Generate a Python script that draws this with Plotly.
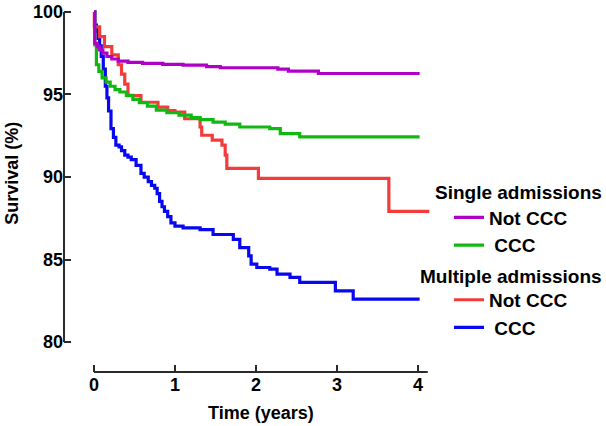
import plotly.graph_objects as go

# ---- data (Kaplan-Meier step points) ----
single_not_ccc_t = [0, 0.01, 0.04, 0.07, 0.11, 0.16, 0.22, 0.30, 0.42, 0.60, 0.85, 1.10, 1.39, 1.56, 2.27, 2.40, 2.77, 4.02]
single_not_ccc_s = [100, 98.1, 97.9, 97.7, 97.5, 97.3, 97.15, 97.02, 96.94, 96.88, 96.82, 96.78, 96.69, 96.62, 96.53, 96.42, 96.27, 96.27]

single_ccc_t = [0, 0.01, 0.03, 0.06, 0.10, 0.15, 0.20, 0.26, 0.32, 0.40, 0.48, 0.56, 0.66, 0.77, 0.90, 1.05, 1.20, 1.31, 1.47, 1.62, 1.80, 2.17, 2.30, 2.54, 4.02]
single_ccc_s = [100, 98.0, 96.8, 96.4, 96.0, 95.75, 95.5, 95.3, 95.15, 94.95, 94.7, 94.5, 94.3, 94.05, 93.9, 93.75, 93.6, 93.48, 93.33, 93.2, 93.03, 92.93, 92.63, 92.43, 92.43]

multi_not_ccc_t = [0, 0.005, 0.07, 0.13, 0.22, 0.30, 0.34, 0.38, 0.42, 0.58, 0.79, 0.91, 1.0, 1.12, 1.31, 1.33, 1.46, 1.58, 1.62, 1.64, 2.03, 3.64, 4.14]
multi_not_ccc_s = [100, 99.1, 98.5, 97.9, 97.4, 96.8, 96.23, 95.63, 94.93, 94.53, 94.23, 94.03, 93.93, 93.53, 93.03, 92.53, 92.23, 91.93, 91.33, 90.52, 89.92, 87.92, 87.92]

multi_ccc_t = [0, 0.01, 0.03, 0.05, 0.07, 0.09, 0.115, 0.14, 0.16, 0.18, 0.21, 0.24, 0.27, 0.31, 0.34, 0.38, 0.42, 0.46, 0.52, 0.58, 0.62, 0.67, 0.71, 0.75, 0.78, 0.81, 0.84, 0.87, 0.91, 0.95, 1.0, 1.10, 1.31, 1.47, 1.68, 1.72, 1.80, 1.91, 1.94, 2.01, 2.17, 2.26, 2.42, 2.54, 2.98, 3.20, 4.02]
multi_ccc_s = [100, 99.2, 98.8, 98.4, 97.94, 97.3, 96.53, 95.5, 94.8, 94.0, 92.93, 92.4, 91.93, 91.83, 91.6, 91.33, 91.2, 91.05, 90.7, 90.22, 90.0, 89.72, 89.5, 89.32, 89.0, 88.52, 88.2, 87.92, 87.6, 87.22, 87.02, 86.92, 86.82, 86.52, 86.52, 86.22, 85.72, 85.22, 84.72, 84.52, 84.42, 84.12, 83.92, 83.62, 83.1, 82.6, 82.6]

x_ticks = [0, 1, 2, 3, 4]
y_ticks = [80, 85, 90, 95, 100]
legend_names = ["Not CCC", "\u00a0CCC", "Not CCC", "\u00a0CCC"]
group_titles = ["Single admissions", "Multiple admissions"]

colors = ["#B000C8", "#12B812", "#F23C3C", "#0808F0"]

FONT = "Liberation Sans, Arial, sans-serif"
X_RANGE = [-0.370, 4.148]
Y_RANGE = [78.19, 100.42]

series = [
    (single_not_ccc_t, single_not_ccc_s, legend_names[0], colors[0], "single", 1),
    (single_ccc_t, single_ccc_s, legend_names[1], colors[1], "single", 2),
    (multi_not_ccc_t, multi_not_ccc_s, legend_names[2], colors[2], "multiple", 3),
    (multi_ccc_t, multi_ccc_s, legend_names[3], colors[3], "multiple", 4),
]

fig = go.Figure()
# draw blue first, purple last (on top)
for t, s, name, col, grp, rank in reversed(series):
    fig.add_trace(go.Scatter(
        x=t, y=s, mode="lines", name=name,
        line=dict(color=col, width=3.2, shape="hv"),
        legendgroup=grp, legendrank=rank, hoverinfo="skip",
    ))

def xf(v):
    return (v - X_RANGE[0]) / (X_RANGE[1] - X_RANGE[0])

def yf(v):
    return (v - Y_RANGE[0]) / (Y_RANGE[1] - Y_RANGE[0])

axis_col = "#2a2a2a"
shapes = [
    dict(type="line", xref="paper", yref="paper", x0=0, x1=0,
         y0=yf(y_ticks[0]), y1=yf(y_ticks[-1]), line=dict(color=axis_col, width=2)),
    dict(type="line", xref="paper", yref="paper", x0=xf(x_ticks[0]), x1=xf(4.12),
         y0=0, y1=0, line=dict(color=axis_col, width=2)),
]

annotations = [
    dict(text="<b>Survival (%)</b>", xref="paper", yref="paper", x=-0.142, y=0.54,
         textangle=-90, showarrow=False, font=dict(family=FONT, size=18, color="black"),
         xanchor="center", yanchor="middle"),
    dict(text="<b>Time (years)</b>", xref="paper", yref="paper", x=0.538, y=-0.111,
         showarrow=False, font=dict(family=FONT, size=18, color="black"),
         xanchor="center", yanchor="middle"),
    dict(text="<b>%s</b>" % group_titles[0], xref="paper", yref="paper", x=(604 - 64) / 366, y=(372 - 191.5) / 370,
         showarrow=False, font=dict(family=FONT, size=19, color="black"),
         xanchor="right", yanchor="middle"),
    dict(text="<b>%s</b>" % group_titles[1], xref="paper", yref="paper", x=(604 - 64) / 366, y=(372 - 276) / 370,
         showarrow=False, font=dict(family=FONT, size=19, color="black"),
         xanchor="right", yanchor="middle"),
]

fig.update_layout(
    width=606, height=426,
    margin=dict(l=64, r=176, t=2, b=54),
    paper_bgcolor="white", plot_bgcolor="white",
    showlegend=True,
    legend=dict(
        xref="container", yref="container", x=449 / 606, y=1 - 198.5 / 426,
        xanchor="left", yanchor="top",
        traceorder="grouped", tracegroupgap=27,
        font=dict(family=FONT, size=19, color="black", weight="bold"),
        bgcolor="rgba(0,0,0,0)", borderwidth=0,
    ),
    xaxis=dict(
        range=X_RANGE, tickvals=x_ticks, ticktext=[str(v) for v in x_ticks],
        ticks="inside", ticklen=7, tickwidth=2, tickcolor=axis_col,
        showline=False, showgrid=False, zeroline=False,
        ticklabeloverflow="allow",
        tickfont=dict(family=FONT, size=18, color="black", weight="bold"),
        fixedrange=True,
    ),
    yaxis=dict(
        range=Y_RANGE, tickvals=y_ticks, ticktext=[str(v) for v in y_ticks],
        ticks="inside", ticklen=7, tickwidth=2, tickcolor=axis_col,
        showline=False, showgrid=False, zeroline=False,
        ticklabeloverflow="allow",
        tickfont=dict(family=FONT, size=18, color="black", weight="bold"),
        fixedrange=True,
    ),
    shapes=shapes,
    annotations=annotations,
)

fig.write_html(
    "out.html",
    config={"displayModeBar": False, "staticPlot": True},
    post_script="document.body.style.margin='0px';document.body.style.padding='0px';",
)
